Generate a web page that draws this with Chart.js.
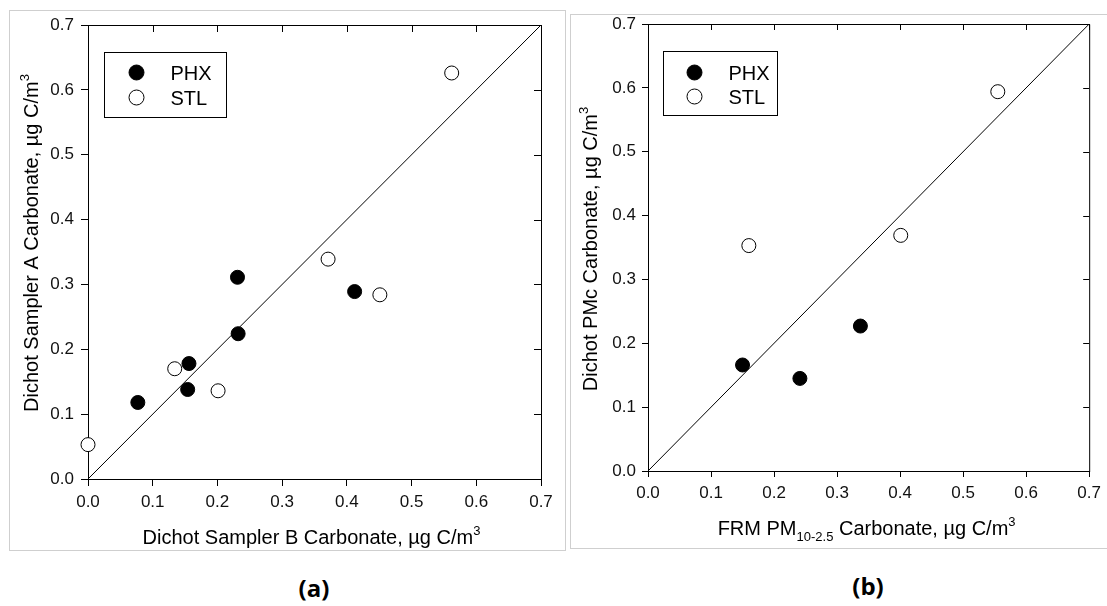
<!DOCTYPE html>
<html>
<head>
<meta charset="utf-8">
<script src="https://cdn.jsdelivr.net/npm/chart.js@4.4.0/dist/chart.umd.min.js"></script>
<style>
  body { margin: 0; width: 1107px; height: 606px; background: #fff; position: relative; overflow: hidden; }
  .frame { position: absolute; border: 1px solid #cfcfcf; }
  .wrap { position: absolute; }
  .tag { position: absolute; font-family: "Open Sans", "Noto Sans", sans-serif; font-weight: 700; font-size: 24px; color: #000; transform: translateX(-50%); }
</style>
</head>
<body>
<div class="frame" style="left:9px;top:10px;width:555px;height:539px"></div>
<div class="frame" style="left:570px;top:14px;width:545px;height:533px"></div>
<div class="wrap" style="left:0;top:0"><canvas id="chartA" width="565" height="560"></canvas></div>
<div class="wrap" style="left:570px;top:0"><canvas id="chartB" width="537" height="560"></canvas></div>
<div class="tag" style="left:314px;top:571px">(a)</div>
<div class="tag" style="left:868px;top:569px">(b)</div>

<script>
// axis ticks shared by both panels
const tickValues = [0, 0.1, 0.2, 0.3, 0.4, 0.5, 0.6, 0.7];
const seriesNames = ["PHX", "STL"];
const oneToOne = [0, 0.7];

// panel (a): Dichot sampler B (x) vs sampler A (y)
const phxA_x = [0.077, 0.154, 0.156, 0.232, 0.231, 0.412];
const phxA_y = [0.118, 0.138, 0.178, 0.224, 0.311, 0.289];
const stlA_x = [0.0, 0.134, 0.201, 0.371, 0.451, 0.562];
const stlA_y = [0.053, 0.170, 0.136, 0.339, 0.284, 0.626];

// panel (b): FRM PM10-2.5 (x) vs Dichot PMc (y)
const phxB_x = [0.150, 0.241, 0.337];
const phxB_y = [0.166, 0.145, 0.227];
const stlB_x = [0.160, 0.401, 0.555];
const stlB_y = [0.353, 0.369, 0.594];

const FONT = '"Liberation Sans", Arial, sans-serif';

function pts(xs, ys) {
    return xs.map((x, i) => ({ x: x, y: ys[i] }));
}

// draw a run of text pieces (for super/subscripts)
function drawRich(ctx, parts, x, y) {
    let total = 0;
    parts.forEach(p => {
        ctx.font = p.size + 'px ' + FONT;
        p.w = ctx.measureText(p.text).width;
        total += p.w;
    });
    let cx = x - total / 2;
    parts.forEach(p => {
        ctx.font = p.size + 'px ' + FONT;
        ctx.fillText(p.text, cx, y + (p.dy || 0));
        cx += p.w;
    });
}

const panelDecor = {
    id: 'panelDecor',
    afterDraw(chart, args, o) {
        const { ctx, chartArea: a, scales } = chart;
        ctx.save();
        ctx.strokeStyle = '#000';
        ctx.lineWidth = 1;

        // top and right frame lines with inward ticks
        const top = a.top + 0.5, right = a.right + 0.5;
        ctx.beginPath();
        ctx.moveTo(a.left, top); ctx.lineTo(right, top); ctx.lineTo(right, a.bottom + 1);
        tickValues.forEach(v => {
            const px = Math.round(scales.x.getPixelForValue(v)) + 0.5;
            ctx.moveTo(px, a.top); ctx.lineTo(px, a.top + o.tick);
            const py = Math.round(scales.y.getPixelForValue(v)) + 0.5;
            ctx.moveTo(a.right, py); ctx.lineTo(a.right - o.tick, py);
        });
        ctx.stroke();

        // axis titles
        ctx.fillStyle = '#000';
        ctx.textBaseline = 'alphabetic';
        ctx.textAlign = 'left';
        drawRich(ctx, o.xTitle, (a.left + a.right) / 2 + o.xShift, a.bottom + o.xGap);
        ctx.save();
        ctx.translate(a.left - o.yGap, o.yCenter);
        ctx.rotate(-Math.PI / 2);
        drawRich(ctx, o.yTitle, 0, 0);
        ctx.restore();

        // legend box
        const L = o.legend;
        const bx = a.left + L.dx + 0.5, by = a.top + L.dy + 0.5;
        ctx.strokeRect(bx, by, L.w, L.h);
        ctx.font = '20px ' + FONT;
        seriesNames.forEach((name, i) => {
            const ry = by + L.row0 + i * L.rowGap;
            ctx.beginPath();
            ctx.arc(bx + L.mx, ry, 7.5, 0, Math.PI * 2);
            ctx.fillStyle = i === 0 ? '#000' : '#fff';
            ctx.fill();
            ctx.stroke();
            ctx.fillStyle = '#000';
            ctx.fillText(name, bx + L.tx, ry + 7);
        });
        ctx.restore();
    }
};

function axis(tickLen, pad, fit) {
    return {
        type: 'linear',
        min: 0,
        max: 0.7,
        afterBuildTicks: s => { s.ticks = tickValues.map(v => ({ value: v })); },
        afterFit: fit,
        ticks: {
            callback: v => v.toFixed(1),
            font: { size: 17, family: FONT },
            color: '#111',
            padding: pad,
            maxRotation: 0,
            autoSkip: false
        },
        grid: { drawOnChartArea: false, drawTicks: true, tickLength: tickLen, color: '#000', lineWidth: 1 },
        border: { display: true, color: '#000', width: 1 }
    };
}

function makeChart(id, phx, stl, cfg) {
    return new Chart(document.getElementById(id), {
        type: 'scatter',
        data: {
            datasets: [
                { label: seriesNames[0], data: phx, pointRadius: 7, pointBackgroundColor: '#000',
                  pointBorderColor: '#000', pointBorderWidth: 1, order: 0, clip: false },
                { label: seriesNames[1], data: stl, pointRadius: 7, pointBackgroundColor: '#fff',
                  pointBorderColor: '#000', pointBorderWidth: 1, order: 1, clip: false },
                { label: '1:1', data: pts(oneToOne, oneToOne), showLine: true, pointRadius: 0,
                  borderColor: '#000', borderWidth: 1, order: 2 }
            ]
        },
        options: {
            responsive: false,
            animation: false,
            layout: { autoPadding: false, padding: cfg.padding },
            scales: {
                x: axis(cfg.tick, cfg.xPad, s => { s.height = cfg.xHeight; }),
                y: axis(cfg.tick, cfg.yPad, s => { s.width = cfg.yWidth; })
            },
            plugins: {
                legend: { display: false },
                tooltip: { enabled: false },
                panelDecor: cfg.decor
            }
        },
        plugins: [panelDecor]
    });
}

document.addEventListener('DOMContentLoaded', () => {
    makeChart('chartA', pts(phxA_x, phxA_y), pts(stlA_x, stlA_y), {
        padding: { top: 25, right: 24, bottom: 0, left: 0 },
        xHeight: 81, yWidth: 88, tick: 7, xPad: 6, yPad: 7,
        decor: {
            tick: 7,
            xTitle: [{ text: 'Dichot Sampler B Carbonate, \u00b5g C/m', size: 20 }, { text: '3', size: 13, dy: -9 }],
            yTitle: [{ text: 'Dichot Sampler A Carbonate, \u00b5g C/m', size: 20 }, { text: '3', size: 13, dy: -9 }],
            xShift: -3, xGap: 65, yGap: 50, yCenter: 243,
            legend: { dx: 16, dy: 27, w: 122, h: 65, row0: 20, rowGap: 25, mx: 32, tx: 66 }
        }
    });

    makeChart('chartB', pts(phxB_x, phxB_y), pts(stlB_x, stlB_y), {
        padding: { top: 24, right: 11, bottom: 0, left: 0 },
        xHeight: 89, yWidth: 78, tick: 6, xPad: 6, yPad: 6,
        decor: {
            tick: 6,
            xTitle: [{ text: 'FRM PM', size: 20 }, { text: '10-2.5', size: 13, dy: 6 },
                     { text: ' Carbonate, \u00b5g C/m', size: 20 }, { text: '3', size: 13, dy: -9 }],
            yTitle: [{ text: 'Dichot PMc Carbonate, \u00b5g C/m', size: 20 }, { text: '3', size: 13, dy: -9 }],
            xShift: -2, xGap: 64, yGap: 51, yCenter: 249,
            legend: { dx: 15, dy: 27, w: 114, h: 64, row0: 21, rowGap: 24, mx: 31, tx: 65 }
        }
    });
});
</script>
</body>
</html>
